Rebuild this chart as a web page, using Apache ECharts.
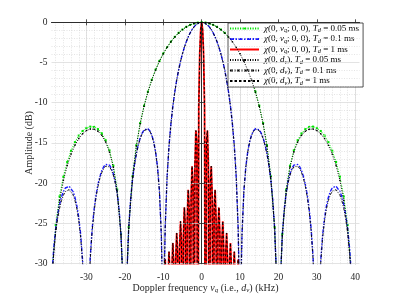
<!DOCTYPE html>
<html><head><meta charset="utf-8">
<script src="https://cdn.jsdelivr.net/npm/echarts@6/dist/echarts.min.js"></script>
<style>html,body{margin:0;padding:0;background:#fff}#c{width:399px;height:299px}</style>
</head><body><div id="c"></div><script>
// ---------- data (positive-frequency half, curves are symmetric) ----------
// Td = 0.05 ms
const f05 = [0,1,2,3,4,5,6,7,8,9,10,11,12,13,14,15,16,17,18,19,19.5,20,20.5,21,22,23,24,25,26,27,28,29,30,31,32,33,34,35,36,37,38,39,39.5,40,40.5,41];
const chiNuq05 = [0,-0.04,-0.14,-0.32,-0.57,-0.90,-1.31,-1.81,-2.40,-3.09,-3.88,-4.81,-5.89,-7.14,-8.62,-10.37,-12.53,-15.29,-19.11,-25.48,-31.7,-60,-32.1,-26.32,-20.80,-17.83,-15.93,-14.67,-13.82,-13.29,-13.02,-12.98,-13.14,-13.52,-14.09,-14.91,-15.98,-17.37,-19.20,-21.66,-25.20,-31.3,-37.4,-60,-37.6,-31.7];
const chiDv05 = [0,-0.04,-0.14,-0.32,-0.58,-0.91,-1.33,-1.83,-2.42,-3.12,-3.92,-4.86,-5.94,-7.20,-8.69,-10.45,-12.62,-15.39,-19.23,-25.61,-31.8,-60,-32.3,-26.48,-20.97,-18.02,-16.14,-14.89,-14.06,-13.55,-13.30,-13.28,-13.46,-13.86,-14.46,-15.30,-16.39,-17.81,-19.66,-22.15,-25.72,-31.86,-37.96,-60,-38.2,-32.3];
// Td = 0.1 ms
const f01 = [0,0.5,1,1.5,2,2.5,3,3.5,4,4.5,5,5.5,6,6.5,7,7.5,8,8.5,9,9.5,9.75,10,10.25,10.5,11,11.5,12,12.5,13,13.5,14,14.5,15,15.5,16,16.5,17,17.5,18,18.5,19,19.5,20,20.5,21,21.5,22,22.5,23,23.5,24,24.5,25,25.5,26,26.5,27,27.5,28,28.5,29,29.5,30,30.5,31,31.5,32,32.5,33,33.5,34,34.5,35,35.5,36,36.5,37,37.5,38,38.5,39,39.5,40,40.5,41];
const chiNuq01 = [0,-0.04,-0.14,-0.32,-0.57,-0.90,-1.32,-1.82,-2.41,-3.11,-3.91,-4.85,-5.93,-7.18,-8.67,-10.43,-12.60,-15.36,-19.20,-25.58,-31.8,-60,-32.26,-26.44,-20.93,-17.97,-16.09,-14.83,-14.00,-13.48,-13.23,-13.21,-13.38,-13.77,-14.37,-15.20,-16.29,-17.70,-19.54,-22.03,-25.59,-31.72,-60,-32.14,-26.43,-23.29,-21.24,-19.82,-18.83,-18.17,-17.77,-17.62,-17.68,-17.95,-18.44,-19.16,-20.15,-21.47,-23.22,-25.61,-29.09,-35.14,-60,-35.41,-29.63,-26.42,-24.29,-22.81,-21.76,-21.05,-20.60,-20.39,-20.38,-20.61,-21.05,-21.71,-22.66,-23.93,-25.63,-27.98,-31.42,-37.4,-60,-37.6,-31.8];
const chiDv01 = [0,-0.04,-0.14,-0.32,-0.58,-0.91,-1.33,-1.83,-2.42,-3.12,-3.92,-4.86,-5.94,-7.20,-8.69,-10.45,-12.62,-15.39,-19.23,-25.61,-31.8,-60,-32.3,-26.48,-20.97,-18.02,-16.14,-14.89,-14.06,-13.55,-13.30,-13.28,-13.46,-13.86,-14.46,-15.30,-16.39,-17.81,-19.66,-22.15,-25.72,-31.86,-60,-32.29,-26.59,-23.45,-21.41,-20.00,-19.02,-18.37,-17.98,-17.83,-17.90,-18.18,-18.68,-19.41,-20.41,-21.74,-23.50,-25.90,-29.39,-35.45,-60,-35.74,-29.97,-26.77,-24.66,-23.19,-22.15,-21.45,-21.01,-20.81,-20.82,-21.06,-21.51,-22.19,-23.15,-24.43,-26.15,-28.51,-31.96,-38.0,-60,-38.2,-32.4];
// Td = 1 ms
const f1 = [0,0.25,0.5,0.75,1,1.25,1.5,1.75,2,2.25,2.5,2.75,3,3.25,3.5,3.75,4,4.25,4.5,4.75,5,5.25,5.5,5.75,6,6.25,6.5,6.75,7,7.25,7.5,7.75,8,8.25,8.5,8.75,9,9.25,9.5,9.75,10,10.25,10.5];
const chiNuq1 = [0,-0.91,-3.92,-10.45,-60,-14.89,-13.46,-17.81,-60,-20.00,-17.90,-21.74,-60,-23.19,-20.82,-24.43,-60,-25.52,-23.01,-26.49,-60,-27.36,-24.75,-28.15,-60,-28.87,-26.20,-29.54,-60,-30.16,-27.44,-30.74,-60,-31.30,-28.53,-31.80,-60,-32.28,-29.50,-32.70,-60,-33.10,-30.40];
const chiDv1 = [0,-0.91,-3.92,-10.45,-60,-14.89,-13.46,-17.81,-60,-20.00,-17.90,-21.74,-60,-23.19,-20.82,-24.43,-60,-25.52,-23.01,-26.49,-60,-27.36,-24.75,-28.15,-60,-28.87,-26.20,-29.54,-60,-30.16,-27.44,-30.74,-60,-31.30,-28.53,-31.80,-60,-32.28,-29.50,-32.70,-60,-33.10,-30.40];
const xTickValues = [-30,-20,-10,0,10,20,30,40];
const yTickValues = [-30,-25,-20,-15,-10,-5,0];

// ---------- layout ----------
const FONT = '"Liberation Serif","DejaVu Serif",serif';
const TXT = '#262626';
const L = 51.5, T = 22.3, W = 308, H = 242.7;
const XMIN = -39.1, XMAX = 41.1;
const px = v => L + (v - XMIN) / (XMAX - XMIN) * W;
// small dot marker inside a larger (invisible) bounding box
const DOT = 'path://M0 0M10 10M3.6 3.6h2.8v2.8h-2.8z';

function sym(f, v) {
  const pts = [];
  for (let i = f.length - 1; i > 0; i--) pts.push([-f[i], v[i]]);
  for (let i = 0; i < f.length; i++) pts.push([f[i], v[i]]);
  return pts;
}

const rich = {
  i: {fontFamily: FONT, fontStyle: 'italic', fontSize: 9, lineHeight: 10, color: '#000'},
  s: {fontFamily: FONT, fontStyle: 'italic', fontSize: 6.3, lineHeight: 5.5, verticalAlign: 'bottom', color: '#000'},
  n: {fontFamily: FONT, fontSize: 9, lineHeight: 10, color: '#000'}
};
const legendText = {
  g:  '{i|χ}{n|(0, }{i|ν}{s|q}{n|; 0, 0), }{i|T}{s|d}{n| = 0.05 ms}',
  b:  '{i|χ}{n|(0, }{i|ν}{s|q}{n|; 0, 0), }{i|T}{s|d}{n| = 0.1 ms}',
  r:  '{i|χ}{n|(0, }{i|ν}{s|q}{n|; 0, 0), }{i|T}{s|d}{n| = 1 ms}',
  k05:'{i|χ}{n|(0, }{i|d}{s|ν}{n|), }{i|T}{s|d}{n| = 0.05 ms}',
  k01:'{i|χ}{n|(0, }{i|d}{s|ν}{n|), }{i|T}{s|d}{n| = 0.1 ms}',
  k1: '{i|χ}{n|(0, }{i|d}{s|ν}{n|), }{i|T}{s|d}{n| = 1 ms}'
};

const hiddenAxis = {show: true, axisLine:{show:false}, axisTick:{show:false}, axisLabel:{show:false}, splitLine:{show:false}};
const borderLine = {show: true, lineStyle: {color: TXT, width: 0.8}};

function line(name, f, v, color, type, width, z, marker) {
  return {
    name, type: 'line', xAxisIndex: 0, yAxisIndex: 0, data: sym(f, v),
    symbol: marker ? DOT : 'none', symbolSize: marker || 0, showSymbol: !!marker,
    itemStyle: {color}, lineStyle: {color, type, width}, z, clip: true, silent: true
  };
}

const chart = echarts.init(document.getElementById('c'), null, {renderer: 'canvas'});
chart.setOption({
  animation: false,
  backgroundColor: '#fff',
  grid: [
    {left: L, top: T, width: W, height: H},
    {left: px(xTickValues[0]), top: T, width: px(xTickValues[xTickValues.length-1]) - px(xTickValues[0]), height: H},
    {left: px(-38), top: T, width: px(40) - px(-38), height: H}
  ],
  xAxis: [
    {gridIndex: 0, type: 'value', min: XMIN, max: XMAX, position: 'bottom', z: 5,
     axisLine: borderLine, axisTick:{show:false}, axisLabel:{show:false}, splitLine:{show:false},
     name: '{n|Doppler frequency }{i|ν}{s|q}{n| (i.e., }{i|d}{s|ν}{n|) (kHz)}', nameLocation: 'middle', nameGap: 18.5,
     nameMoveOverlap: false,
     nameTextStyle: {fontFamily: FONT, fontSize: 10, color: TXT, rich: {
       n: {fontFamily: FONT, fontSize: 10, lineHeight: 12, color: TXT},
       i: {fontFamily: FONT, fontSize: 10, fontStyle: 'italic', lineHeight: 12, color: TXT},
       s: {fontFamily: FONT, fontSize: 7, fontStyle: 'italic', lineHeight: 7, verticalAlign: 'bottom', color: TXT}}}},
    {gridIndex: 0, type: 'value', min: XMIN, max: XMAX, position: 'top', z: 5,
     axisLine: borderLine, axisTick:{show:false}, axisLabel:{show:false}, splitLine:{show:false}},
    {gridIndex: 1, type: 'value', min: xTickValues[0], max: xTickValues[xTickValues.length-1], interval: 10, position: 'bottom',
     axisLine:{show:false}, axisTick:{show:true, inside:true, length:3, lineStyle:{color:TXT, width:0.8}},
     axisLabel:{show:true, margin: 7, fontFamily: FONT, fontSize: 9.5, color: TXT},
     splitLine:{show:true, lineStyle:{color:'#dcdcdc', width:0.8}}},
    {gridIndex: 1, type: 'value', min: xTickValues[0], max: xTickValues[xTickValues.length-1], interval: 10, position: 'top',
     axisLine:{show:false}, axisTick:{show:true, inside:true, length:3, lineStyle:{color:TXT, width:0.8}},
     axisLabel:{show:false}, splitLine:{show:false}},
    {gridIndex: 2, type: 'value', min: -38, max: 40, interval: 2,
     axisLine:{show:false}, axisTick:{show:false}, axisLabel:{show:false},
     splitLine:{show:true, lineStyle:{color:'#d2d2d2', width:0.6, type:[1,1.5]}}}
  ],
  yAxis: [
    {gridIndex: 0, type: 'value', min: yTickValues[0], max: yTickValues[yTickValues.length-1], interval: 5, position: 'left', z: 5,
     axisLine: borderLine, axisTick:{show:true, inside:true, length:3, lineStyle:{color:TXT, width:0.8}},
     axisLabel:{show:true, margin: 4, fontFamily: FONT, fontSize: 9.5, color: TXT},
     splitLine:{show:true, lineStyle:{color:'#dcdcdc', width:0.8}},
     minorTick:{show:false, splitNumber:5},
     minorSplitLine:{show:true, lineStyle:{color:'#d2d2d2', width:0.6, type:[1,1.5]}},
     name: 'Amplitude (dB)', nameLocation: 'middle', nameGap: 17.5, nameRotate: 90, nameMoveOverlap: false,
     nameTextStyle: {fontFamily: FONT, fontSize: 10, color: TXT}},
    {gridIndex: 0, type: 'value', min: -30, max: 0, interval: 5, position: 'right', z: 5,
     axisLine: borderLine, axisTick:{show:true, inside:true, length:3, lineStyle:{color:TXT, width:0.8}},
     axisLabel:{show:false}, splitLine:{show:false}},
    Object.assign({gridIndex: 1, type:'value', min:-30, max:0}, hiddenAxis),
    Object.assign({gridIndex: 2, type:'value', min:-30, max:0}, hiddenAxis)
  ],
  legend: {
    left: 228, top: 23, orient: 'vertical',
    backgroundColor: '#fff', borderColor: TXT, borderWidth: 0.8,
    padding: [1, 4, 1, 1], itemGap: 1, itemWidth: 29, itemHeight: 8,
    textStyle: {fontFamily: FONT, fontSize: 9, color: '#000', rich},
    formatter: n => legendText[n],
    data: [
      {name:'g'},
      {name:'b', itemStyle:{opacity:0}},
      {name:'r', itemStyle:{opacity:0}},
      {name:'k05'},
      {name:'k01', itemStyle:{opacity:0}},
      {name:'k1', itemStyle:{opacity:0}}
    ]
  },
  series: [
    line('g', f05, chiNuq05, '#00e600', [1.2, 1.3], 1, 2, 7.5),
    line('b', f01, chiNuq01, '#1a1aff', [4, 1.5, 1.5, 1.5], 1.4, 3, 0),
    line('r', f1, chiNuq1, '#ff0000', 'solid', 1.8, 4, 0),
    line('k05', f05, chiDv05, '#000000', [1, 1.5], 1, 5, 5),
    line('k01', f01, chiDv01, '#000000', [3, 1.5, 1, 1.5], 0.9, 6, 0),
    line('k1', f1, chiDv1, '#000000', [2.5, 2], 1, 7, 0)
  ]
});
</script></body></html>
